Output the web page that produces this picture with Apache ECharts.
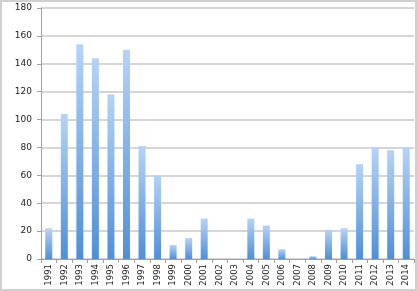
<!DOCTYPE html>
<html><head><meta charset="utf-8">
<script src="https://cdn.jsdelivr.net/npm/echarts@6/dist/echarts.min.js"></script>
<style>html,body{margin:0;padding:0;background:#fff}#c{width:417px;height:291px;box-sizing:border-box;border:2px solid #d0d0d0}</style>
</head><body><div id="c"></div>
<script>
var years = ['1991','1992','1993','1994','1995','1996','1997','1998','1999','2000','2001','2002','2003','2004','2005','2006','2007','2008','2009','2010','2011','2012','2013','2014'];
var values = [22,104,154,144,118,150,81,60,10,15,29,0,0,29,24,7,0,2,21,22,68,80,78,80];
var yTicks = {min:0, max:180, interval:20};
var chart = echarts.init(document.getElementById('c'), null, {renderer:'canvas'});
chart.setOption({
  animation:false,
  grid:{left:39, right:1, top:6, bottom:30},
  xAxis:{type:'category', data:years, boundaryGap:true,
    axisLine:{lineStyle:{color:'#a0a0a0', width:1}},
    axisTick:{show:true, alignWithLabel:false, length:4, lineStyle:{color:'#a0a0a0'}},
    axisLabel:{rotate:90, interval:0, fontFamily:'DejaVu Sans', fontSize:8.5, color:'#222', margin:5}
  },
  yAxis:{type:'value', min:yTicks.min, max:yTicks.max, interval:yTicks.interval,
    axisLine:{show:true, lineStyle:{color:'#a0a0a0'}},
    axisTick:{show:true, length:4, lineStyle:{color:'#a0a0a0'}},
    axisLabel:{fontFamily:'DejaVu Sans', fontSize:9, color:'#222', margin:9},
    splitLine:{lineStyle:{color:'#c8c8c8', width:1.5}}
  },
  series:[{type:'bar', data:values, barWidth:7,
    itemStyle:{color:new echarts.graphic.LinearGradient(0,0,0,1,[{offset:0,color:'#b6d3f6'},{offset:1,color:'#4f8fd8'}])}
  }]
});
</script></body></html>
